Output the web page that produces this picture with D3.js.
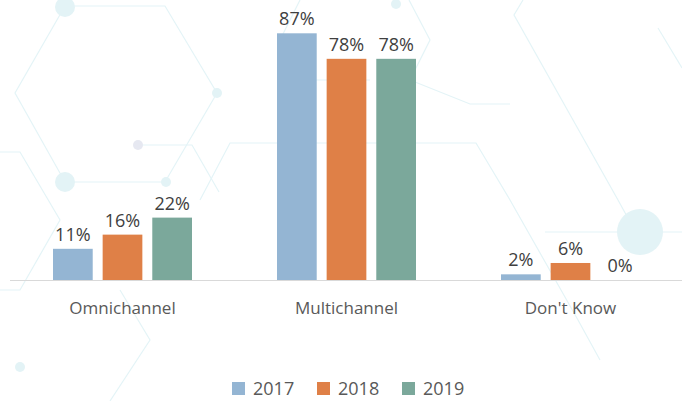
<!DOCTYPE html>
<html>
<head>
<meta charset="utf-8">
<script src="https://cdn.jsdelivr.net/npm/d3@7"></script>
<style>
  body { margin: 0; background: #fff; }
  svg { display: block; font-family: "Open Sans", sans-serif; }
</style>
</head>
<body>
<div class="chart"></div>
<script>
var width = 682;
var height = 401;

var categories = ["Omnichannel", "Multichannel", "Don't Know"];
var years = ["2017", "2018", "2019"];
var values2017 = [11, 87, 2];
var values2018 = [16, 78, 6];
var values2019 = [22, 78, 0];
var colors = ["#94b5d3", "#df8047", "#7ba89b"];

var series = [values2017, values2018, values2019];

var svg = d3.select(".chart")
    .append("svg")
    .attr("width", width)
    .attr("height", height);

// faint hexagon background
var deco = svg.append("g").attr("fill", "none").attr("stroke", "#e4f4f7").attr("stroke-width", 1.2);
var hexLines = [
    [[65, 6], [165, 6], [217, 93], [165, 182], [65, 182], [15, 93], [65, 6]],
    [[138, 145], [192, 145], [219, 192]],
    [[0, 152], [20, 152], [60, 220], [20, 290], [0, 290]],
    [[200, 200], [230, 143], [476, 143], [510, 200], [578, 320], [600, 360]],
    [[523, 0], [514, 15], [618, 200], [640, 240]],
    [[658, 28], [682, 68]],
    [[300, 0], [280, 40], [300, 80], [370, 80]],
    [[409, 0], [430, 40], [410, 80], [470, 104], [510, 104]],
    [[120, 290], [150, 340], [110, 401]],
    [[545, 232], [682, 232]]
];
hexLines.forEach(function (pts) {
    deco.append("path").attr("d", d3.line()(pts));
});
var dots = [[65, 7, 10], [217, 93, 5], [65, 182, 10], [166, 182, 5], [640, 232, 23], [20, 367, 5], [396, 4, 5]];
svg.append("g").selectAll("circle")
    .data(dots)
    .enter()
    .append("circle")
    .attr("cx", function (d) { return d[0]; })
    .attr("cy", function (d) { return d[1]; })
    .attr("r", function (d) { return d[2]; })
    .attr("fill", "#e3f3f6");
svg.append("circle").attr("cx", 138).attr("cy", 145).attr("r", 5).attr("fill", "#e6e8f1");

var x0 = d3.scaleBand()
    .domain(categories)
    .range([10, 682]);

var x1 = d3.scaleBand()
    .domain(years)
    .range([43, 182])
    .paddingInner(0.2);

var y = d3.scaleLinear()
    .domain([0, 87])
    .range([280, 33.3]);

var groups = svg.selectAll("g.group")
    .data(categories)
    .enter()
    .append("g")
    .attr("class", "group")
    .attr("transform", function (d) { return "translate(" + x0(d) + ",0)"; });

groups.selectAll("rect")
    .data(function (d, i) {
        return years.map(function (yr, j) { return { year: yr, value: series[j][i], color: colors[j] }; });
    })
    .enter()
    .append("rect")
    .attr("x", function (d) { return x1(d.year); })
    .attr("y", function (d) { return y(d.value); })
    .attr("width", x1.bandwidth())
    .attr("height", function (d) { return y(0) - y(d.value); })
    .style("fill", function (d) { return d.color; });

groups.selectAll("text.val")
    .data(function (d, i) {
        return years.map(function (yr, j) { return { year: yr, value: series[j][i] }; });
    })
    .enter()
    .append("text")
    .attr("class", "val")
    .attr("x", function (d) { return x1(d.year) + x1.bandwidth() / 2; })
    .attr("y", function (d) { return y(d.value) - 8; })
    .attr("text-anchor", "middle")
    .style("font-size", "18px")
    .style("fill", "#404040")
    .text(function (d) { return d.value + "%"; });

// baseline
svg.append("line")
    .attr("x1", 10)
    .attr("x2", 682)
    .attr("y1", y(0) + 0.5)
    .attr("y2", y(0) + 0.5)
    .style("stroke", "#d9d9d9")
    .style("stroke-width", 1);

var xAxis = d3.axisBottom(x0).tickSize(0).tickPadding(0);
var ax = svg.append("g")
    .attr("transform", "translate(" + (x1.range()[0] + (x1.range()[1] - x1.range()[0]) / 2 - x0.bandwidth() / 2) + "," + 314 + ")")
    .call(xAxis);
ax.select(".domain").remove();
ax.selectAll("text")
    .attr("dy", 0)
    .style("font-family", "'Open Sans', sans-serif")
    .style("font-size", "17px")
    .style("fill", "#595959");

// legend
var legendX = [232, 317, 402];
var legend = svg.append("g");
years.forEach(function (yr, i) {
    legend.append("rect")
        .attr("x", legendX[i])
        .attr("y", 382)
        .attr("width", 13)
        .attr("height", 13)
        .style("fill", colors[i]);
    legend.append("text")
        .attr("x", legendX[i] + 21)
        .attr("y", 395)
        .style("font-size", "18px")
        .style("fill", "#595959")
        .text(yr);
});
</script>
</body>
</html>
